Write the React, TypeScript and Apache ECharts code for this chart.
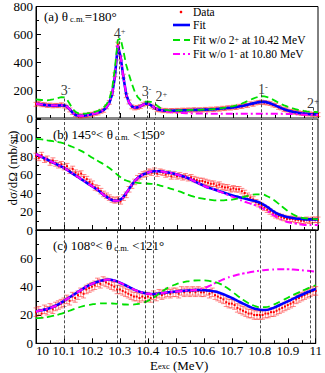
import React, { useEffect, useRef } from "react";
import * as echarts from "echarts";

const FONT = "Liberation Serif";

// sampling grids (MeV)
const E_FINE = Array.from({ length: 101 }, (_, i) => +(10 + i * 0.01).toFixed(2));
const E_COARSE = Array.from({ length: 51 }, (_, i) => +(10 + i * 0.02).toFixed(2));

// resonance energies (MeV) and labels
const RES_E = [10.1, 10.295, 10.395, 10.423, 10.8, 10.983];
const RES_J = ["3", "4", "3", "2", "1", "2"];
const RES_P = ["-", "+", "-", "+", "-", "+"];
const RES_LABEL_X = [10.105, 10.297, 10.392, 10.445, 10.805, 10.982];
const RES_LABEL_Y = [197, 608, 190, 152, 203, 102];
const RES_LINE_TOP = [140, 550, 160, 113, 170, 75];

// ---------- panel (a): theta = 180 deg, 0.01 MeV steps ----------
const A_DATA = [
  98, 104, 95, 96, 90, 93, 87, 91, 88, 95,
  86, 78, 58, 40, 25, 18, 13, 19, 18, 26,
  27, 34, 36, 48, 55, 80, 112, 175, 310, 530,
  430, 300, 160, 115, 80, 72, 76, 82, 95, 104,
  104, 85, 75, 60, 58, 52, 55, 50, 54, 51,
  55, 52, 57, 54, 58, 55, 60, 56, 59, 57,
  62, 58, 64, 61, 66, 63, 70, 67, 74, 71,
  78, 75, 84, 82, 92, 90, 102, 98, 108, 112,
  114, 110, 108, 104, 94, 90, 76, 72, 60, 58,
  48, 46, 40, 38, 33, 33, 29, 30, 26, 27,
  24,
];
const A_ERR = 14;
const A_FIT = [
  102, 100, 97, 94, 92, 90, 89, 89, 90, 92,
  90, 82, 62, 38, 22, 16, 15, 17, 20, 24,
  28, 32, 38, 46, 58, 76, 108, 170, 300, 520,
  440, 290, 170, 110, 84, 74, 76, 84, 96, 105,
  100, 88, 73, 63, 57, 54, 53, 52, 52, 53,
  54, 54, 55, 56, 56, 57, 57, 58, 58, 59,
  60, 61, 62, 63, 64, 66, 68, 70, 72, 74,
  76, 79, 82, 86, 90, 95, 100, 105, 110, 114,
  116, 116, 112, 106, 98, 89, 80, 71, 63, 56,
  50, 45, 41, 37, 34, 32, 30, 28, 27, 26,
  25,
];
const A_NO2 = [
  133, 131, 129, 127, 127, 130, 134, 139, 145, 150,
  148, 132, 100, 66, 44, 34, 31, 31, 33, 36,
  40, 45, 52, 62, 76, 98, 135, 210, 360, 560,
  570, 480, 380, 310, 245, 190, 152, 130, 120, 117,
  117, 114, 104, 88, 74, 64, 58, 55, 53, 53,
  54, 55, 56, 57, 57, 58, 58, 59, 59, 60,
  60, 61, 62, 64, 66, 68, 71, 74, 78, 82,
  86, 91, 97, 104, 112, 121, 130, 139, 147, 153,
  156, 155, 150, 142, 132, 121, 110, 100, 91, 83,
  76, 70, 64, 59, 55, 51, 48, 46, 44, 43,
  42,
];
const A_NO1 = [
  102, 100, 97, 94, 92, 90, 89, 89, 90, 92,
  90, 82, 62, 38, 22, 16, 15, 17, 20, 24,
  28, 32, 38, 46, 58, 76, 108, 170, 300, 520,
  440, 290, 170, 110, 84, 74, 76, 84, 96, 105,
  100, 88, 73, 63, 57, 52, 48, 44, 41, 39,
  37, 36, 35, 34, 34, 33, 33, 32, 32, 32,
  32, 32, 31, 31, 31, 31, 31, 31, 31, 31,
  31, 31, 31, 31, 31, 31, 31, 31, 31, 31,
  31, 31, 31, 31, 30, 30, 30, 30, 29, 29,
  28, 28, 27, 26, 25, 24, 24, 23, 23, 22,
  22,
];

// ---------- panel (b): 145 < theta < 150 ----------
const B_DATA = [
  80, 78, 81, 76, 77, 73, 75, 72, 70, 71,
  68, 69, 64, 66, 62, 60, 61, 57, 55, 52,
  50, 46, 45, 42, 39, 37, 35, 33, 32, 33,
  31, 35, 38, 44, 48, 52, 56, 58, 60, 61,
  63, 62, 64, 61, 63, 62, 60, 61, 58, 60,
  58, 59, 57, 58, 56, 57, 55, 54, 53, 53,
  52, 51, 50, 50, 48, 49, 47, 46, 46, 44,
  45, 44, 44, 42, 40, 37, 35, 33, 30, 28,
  26, 24, 22, 20, 18, 16, 15, 14, 13, 12,
  12, 12, 11, 11, 10, 10, 11, 10, 11, 11,
  11,
];
const B_ERR = 3;
const B_FIT = [
  82, 79, 76, 73, 70, 67, 63, 59, 55, 51,
  47, 43, 38, 34, 31.5, 33, 40, 49, 56, 60,
  62.5, 63.5, 63.5, 62.5, 61.5, 60, 58, 56, 53, 50,
  47, 45, 43, 41, 39, 37, 35.5, 34, 32.5, 31,
  28.5, 25, 20.5, 17, 15, 13.5, 12.5, 12, 11.5, 11.5,
  11.5,
];
const B_NO2 = [
  98.5, 98, 97, 96, 95, 93.5, 91, 88.5, 85.5, 82,
  78, 74.5, 71, 67, 62, 57, 53.5, 52, 51, 50.5,
  50, 49.5, 48, 46.5, 44.5, 42.5, 40.5, 38, 36, 34.5,
  33.5, 32.5, 32, 32, 32.5, 33, 34.5, 36, 37.5, 38.5,
  38.5, 36.5, 33, 28.5, 23.5, 19, 15.5, 13.5, 12.5, 12,
  11.5,
];
const B_NO1 = [
  82, 79, 76, 73, 70, 67, 63, 59, 55, 51,
  47, 43, 38, 34, 31.5, 33, 40, 49, 56, 60,
  62.5, 63.5, 63.5, 62.5, 61.5, 60, 58, 56, 53, 50,
  47, 45, 43, 40.5, 38, 35.5, 33, 30.5, 28.5, 26.5,
  24, 20.5, 16.5, 13, 10, 8, 7, 6, 5.5, 5.5,
  5.5,
];

// ---------- panel (c): 108 < theta < 121 ----------
const C_DATA = [
  22, 23, 21, 24, 23, 25, 24, 26, 27, 28,
  29, 31, 30, 33, 32, 34, 36, 35, 38, 39,
  40, 41, 43, 42, 44, 43, 42, 41, 40, 38,
  38, 37, 36, 35, 34, 33, 33, 32, 33, 32,
  33, 32, 34, 33, 35, 34, 35, 36, 35, 36,
  36, 35, 37, 36, 37, 36, 37, 36, 37, 36,
  36, 37, 35, 36, 34, 33, 32, 31, 29, 28,
  28, 27, 25, 24, 23, 22, 21, 21, 20, 20,
  20, 20, 21, 21, 22, 22, 23, 24, 25, 26,
  27, 28, 29, 31, 32, 33, 34, 35, 36, 37,
  37,
];
const C_ERR = 3;
const C_FIT = [
  22.5, 23.3, 24.3, 25.6, 27.5, 30, 32.5, 35, 37.5, 40,
  42, 43.5, 44.5, 45, 44.3, 42.8, 41, 39, 37.2, 35.8,
  35, 34.8, 35.2, 35.7, 36.2, 36.6, 37, 37.3, 37.5, 37.6,
  37.5, 37.2, 36.5, 35.3, 33.8, 32, 30, 28, 26.2, 24.6,
  23.7, 23.5, 24.4, 26, 27.8, 29.6, 31.5, 33.4, 35.2, 36.8,
  38.3,
];
const C_NO2 = [
  17.8, 18, 18.5, 19.3, 20.3, 21.5, 23, 24.5, 25.8, 26.8,
  27.5, 28, 28.2, 28.2, 28, 27.7, 27.4, 27.3, 27.6, 28.5,
  30, 32.2, 35, 37.8, 40, 41.6, 42.8, 43.7, 44.2, 44.5,
  44.4, 44, 43.2, 41.8, 39.5, 36.7, 33.6, 30.7, 28.3, 26.5,
  25.5, 25.5, 26.5, 28.2, 30.2, 32.2, 34.2, 36, 37.8, 39.5,
  41,
];
const C_NO1 = [
  22.5, 23.3, 24.3, 25.6, 27.5, 30, 32.5, 35, 37.5, 40,
  42, 43.5, 44.5, 45, 44.3, 42.8, 41, 39, 37.2, 35.8,
  35, 34.8, 35.2, 35.7, 36.2, 36.6, 37, 37.3, 37.5, 38,
  39, 40.5, 42.5, 44.3, 46, 47.3, 48.4, 49.3, 50, 50.7,
  51.3, 51.7, 52, 52.2, 52.3, 52.3, 52.1, 51.8, 51.4, 51,
  50.6,
];

const X_TICKS_LABEL = (v: number) => {
  const r = Math.round(v * 10) / 10;
  return Number.isInteger(r) ? String(r) : r.toFixed(1);
};

const zip = (xs: number[], ys: number[]) => xs.map((x, i) => [x, ys[i]]);
const withErr = (xs: number[], ys: number[], e: number) => xs.map((x, i) => [x, ys[i], e]);

const COLORS = { data: "#ff0000", err: "rgba(255,40,40,0.55)", fit: "#0000ff", no2: "#00e000", no1: "#ff00ff" };

function errorRender(params: any, api: any) {
  const x = api.value(0);
  const y = api.value(1);
  const e = api.value(2);
  const p = api.coord([x, y]);
  const t = api.coord([x, y + e]);
  const b = api.coord([x, y - e]);
  const cw = 2.5;
  const st = { stroke: COLORS.err, lineWidth: 1 };
  return {
    type: "group",
    children: [
      { type: "line", shape: { x1: p[0], y1: t[1], x2: p[0], y2: b[1] }, style: st },
      { type: "line", shape: { x1: p[0] - cw, y1: t[1], x2: p[0] + cw, y2: t[1] }, style: st },
      { type: "line", shape: { x1: p[0] - cw, y1: b[1], x2: p[0] + cw, y2: b[1] }, style: st },
      { type: "rect", shape: { x: p[0] - 1, y: p[1] - 1, width: 2, height: 2 }, style: { fill: COLORS.data } },
    ],
  };
}

const richBase = {
  n: { fontFamily: FONT, fontSize: 13, color: "#000", lineHeight: 14 },
  sub: { fontFamily: FONT, fontSize: 8.5, color: "#000", verticalAlign: "bottom", lineHeight: 14, padding: [4, 0, 0, 0] },
  sup: { fontFamily: FONT, fontSize: 8.5, color: "#000", verticalAlign: "top", lineHeight: 14, padding: [0, 0, 4, 0] },
  big: { fontFamily: FONT, fontSize: 14, color: "#000", lineHeight: 14 },
};

export default function App() {
  const ref = useRef<HTMLDivElement>(null);
  useEffect(() => {
    if (!ref.current) return;
    const chart = echarts.init(ref.current, null, { renderer: "svg" });

    const grids = [
      { left: 36, right: 7, top: 5, height: 113 },
      { left: 36, right: 7, top: 119, height: 111 },
      { left: 36, right: 7, top: 230, height: 113.3 },
    ].map((g) => ({ ...g, show: true, borderColor: "#000", borderWidth: 1, containLabel: false }));

    const xAxis = [0, 1, 2].map((i) => ({
      type: "value",
      gridIndex: i,
      min: 10,
      max: 11,
      interval: 0.1,
      axisLine: { show: true, onZero: false, lineStyle: { color: i === 0 ? "#888" : "#000", width: i === 0 ? 2 : 1 } },
      axisTick: { show: true, inside: true, length: 5, lineStyle: { color: "#000" } },
      minorTick: { show: true, splitNumber: 2, length: 3, lineStyle: { color: "#000" } },
      splitLine: { show: false },
      axisLabel: {
        show: i === 2,
        margin: 1,
        fontFamily: FONT,
        fontSize: 13,
        lineHeight: 12,
        color: "#000",
        alignMinLabel: "left",
        formatter: X_TICKS_LABEL,
      },
    }));

    const yCfg = [
      { max: 800, interval: 200, showMax: true },
      { max: 120, interval: 20, showMax: false },
      { max: 80, interval: 20, showMax: false },
    ];
    const yAxis = yCfg.map((c, i) => ({
      type: "value",
      gridIndex: i,
      min: 0,
      max: c.max,
      interval: c.interval,
      axisLine: { show: true, onZero: false, lineStyle: { color: "#000" } },
      axisTick: { show: true, inside: true, length: 5, lineStyle: { color: "#000" } },
      minorTick: { show: true, splitNumber: 2, length: 3, lineStyle: { color: "#000" } },
      splitLine: { show: false },
      axisLabel: {
        margin: 3,
        fontFamily: FONT,
        fontSize: 13,
        lineHeight: 12,
        color: "#000",
        showMaxLabel: c.showMax,
      },
    }));

    const dashStyle = { color: "#222", type: [3, 2], width: 0.8 };
    const mlA = {
      silent: true,
      symbol: ["none", "none"],
      label: { show: false },
      lineStyle: dashStyle,
      emphasis: { disabled: true },
      data: RES_E.map((e, i) => [{ coord: [e, RES_LINE_TOP[i]] }, { coord: [e, 0] }]),
    };
    const mlFull = {
      silent: true,
      symbol: ["none", "none"],
      label: { show: false },
      lineStyle: dashStyle,
      emphasis: { disabled: true },
      data: RES_E.map((e) => ({ xAxis: e })),
    };

    const panels = [
      { data: A_DATA, err: A_ERR, xs: E_FINE, fit: A_FIT, no2: A_NO2, no1: A_NO1, ml: mlA, smooth: false },
      { data: B_DATA, err: B_ERR, xs: E_COARSE, fit: B_FIT, no2: B_NO2, no1: B_NO1, ml: mlFull, smooth: true },
      { data: C_DATA, err: C_ERR, xs: E_COARSE, fit: C_FIT, no2: C_NO2, no1: C_NO1, ml: mlFull, smooth: true },
    ];

    const series: any[] = [];
    panels.forEach((p, i) => {
      series.push({
        type: "custom",
        xAxisIndex: i,
        yAxisIndex: i,
        renderItem: errorRender,
        data: withErr(E_FINE, p.data, p.err),
        encode: { x: 0, y: 1 },
        z: 1,
        silent: true,
      });
      series.push({
        type: "line",
        xAxisIndex: i,
        yAxisIndex: i,
        data: zip(p.xs, p.fit),
        showSymbol: false,
        smooth: p.smooth,
        lineStyle: { color: COLORS.fit, width: 2.6 },
        z: 2,
        markLine: p.ml,
      });
      series.push({
        type: "line",
        xAxisIndex: i,
        yAxisIndex: i,
        data: zip(p.xs, p.no1),
        showSymbol: false,
        smooth: p.smooth,
        lineStyle: { color: COLORS.no1, width: 2, type: [7, 3, 2, 3] },
        z: 3,
      });
      series.push({
        type: "line",
        xAxisIndex: i,
        yAxisIndex: i,
        data: zip(p.xs, p.no2),
        showSymbol: false,
        smooth: p.smooth,
        lineStyle: { color: COLORS.no2, width: 1.8, type: [7, 4] },
        z: 4,
      });
    });

    // resonance spin-parity labels in panel (a)
    series.push({
      type: "scatter",
      xAxisIndex: 0,
      yAxisIndex: 0,
      symbolSize: 0,
      silent: true,
      z: 5,
      data: RES_LABEL_X.map((e, i) => ({ value: [e, RES_LABEL_Y[i]], j: RES_J[i], p: RES_P[i] })),
      label: {
        show: true,
        position: "inside",
        formatter: (prm: any) => `{big|${prm.data.j}}{sup|${prm.data.p}}`,
        rich: richBase,
      },
    });

    const legendY = [12, 25, 40, 54];
    const lx1 = 173;
    const lx2 = 190;
    const tx = 193;
    const txt = (y: number, text: string) => ({
      type: "text",
      x: tx,
      y,
      style: {
        text,
        rich: {
          n: { ...richBase.n, fontSize: 11.5, lineHeight: 10 },
          sup: { ...richBase.sup, fontSize: 8, lineHeight: 10, padding: [0, 0, 2, 0] },
        },
        align: "left",
        textAlign: "left",
        verticalAlign: "middle",
        textVerticalAlign: "middle",
      },
    });

    const graphic: any[] = [
      { type: "circle", shape: { cx: 181, cy: legendY[0], r: 1.3 }, style: { fill: COLORS.data } },
      txt(legendY[0], "{n|Data}"),
      { type: "line", shape: { x1: lx1, y1: legendY[1], x2: lx2, y2: legendY[1] }, style: { stroke: COLORS.fit, lineWidth: 2.6 } },
      txt(legendY[1], "{n|Fit}"),
      { type: "line", shape: { x1: lx1, y1: legendY[2], x2: lx2, y2: legendY[2] }, style: { stroke: COLORS.no2, lineWidth: 1.8, lineDash: [7, 4] } },
      txt(legendY[2], "{n|Fit w/o 2}{sup|+}{n| at 10.42 MeV}"),
      { type: "line", shape: { x1: lx1, y1: legendY[3], x2: lx2, y2: legendY[3] }, style: { stroke: COLORS.no1, lineWidth: 2, lineDash: [7, 3, 2, 3] } },
      txt(legendY[3], "{n|Fit w/o 1}{sup|-}{n| at 10.80 MeV}"),
      // panel titles
      {
        type: "text",
        x: 44,
        y: 16,
        style: { text: "{n|(a) θ}{sub| c.m.}{n|=180°}", rich: richBase, verticalAlign: "middle", textVerticalAlign: "middle" },
      },
      {
        type: "text",
        x: 53,
        y: 134,
        style: { text: "{n|(b) 145°< θ}{sub| c.m.}{n| <150°}", rich: richBase, verticalAlign: "middle", textVerticalAlign: "middle" },
      },
      {
        type: "text",
        x: 53,
        y: 245,
        style: { text: "{n|(c) 108°< θ}{sub| c.m.}{n| <121°}", rich: richBase, verticalAlign: "middle", textVerticalAlign: "middle" },
      },
      // axis titles
      {
        type: "text",
        x: 12,
        y: 168,
        rotation: Math.PI / 2,
        style: {
          text: "dσ/dΩ (mb/sr)",
          fontFamily: FONT,
          fontSize: 13,
          fill: "#000",
          align: "center",
          textAlign: "center",
          verticalAlign: "middle",
          textVerticalAlign: "middle",
        },
      },
      {
        type: "text",
        x: 150,
        y: 365,
        style: {
          text: "{n|E}{sub|exc}{n| (MeV)}",
          rich: {
            n: { ...richBase.n, lineHeight: 11 },
            sub: { ...richBase.sub, lineHeight: 11, padding: [3, 0, 0, 0] },
          },
          align: "left",
          textAlign: "left",
          verticalAlign: "middle",
          textVerticalAlign: "middle",
        },
      },
    ];

    chart.setOption({
      animation: false,
      backgroundColor: "#fff",
      grid: grids,
      xAxis,
      yAxis,
      series,
      graphic,
    });
    return () => chart.dispose();
  }, []);

  return <div ref={ref} style={{ position: "fixed", left: 0, top: 0, width: 325, height: 373, background: "#fff" }} />;
}
